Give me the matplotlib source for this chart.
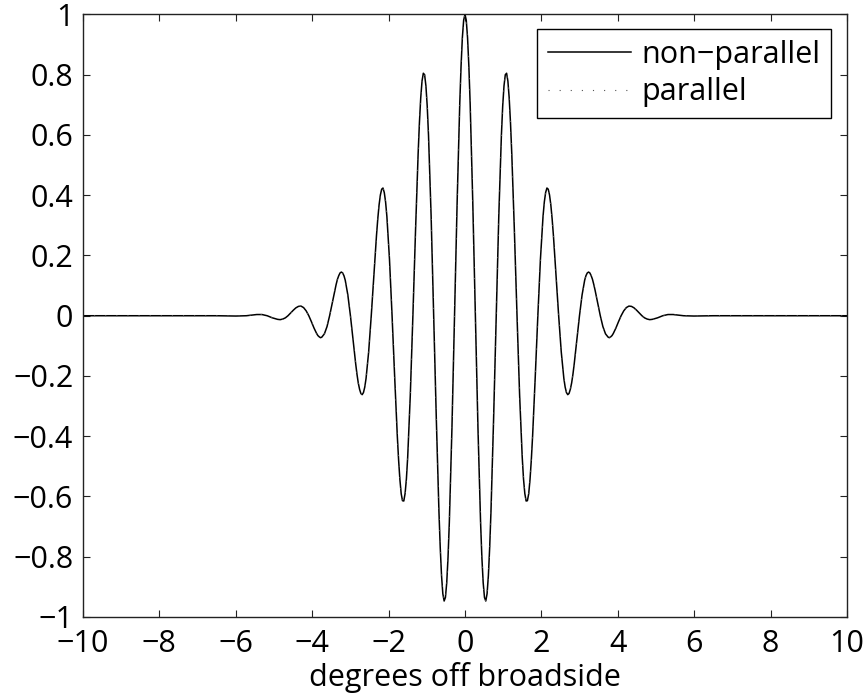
import matplotlib
matplotlib.use("Agg")
import matplotlib.pyplot as plt
import numpy as np

# beam pattern, right half (x in degrees), mirrored for the left half
half_x = [0.0, 0.034, 0.068, 0.102, 0.136, 0.204, 0.273, 0.341,
          0.409, 0.443, 0.477, 0.511, 0.545, 0.579, 0.613, 0.647,
          0.681, 0.749, 0.818, 0.886, 0.954, 0.988, 1.022, 1.056,
          1.09, 1.124, 1.158, 1.192, 1.226, 1.294, 1.363, 1.431,
          1.499, 1.533, 1.567, 1.601, 1.635, 1.669, 1.703, 1.737,
          1.771, 1.839, 1.908, 1.976, 2.044, 2.078, 2.112, 2.146,
          2.18, 2.214, 2.248, 2.282, 2.316, 2.384, 2.453, 2.521,
          2.589, 2.623, 2.657, 2.691, 2.725, 2.759, 2.793, 2.827,
          2.861, 2.929, 2.998, 3.066, 3.134, 3.168, 3.202, 3.236,
          3.27, 3.304, 3.338, 3.372, 3.406, 3.474, 3.543, 3.611,
          3.679, 3.747, 3.781, 3.815, 3.849, 3.883, 3.951, 4.019,
          4.088, 4.156, 4.224, 4.292, 4.36, 4.428, 4.496, 4.564,
          4.633, 4.701, 4.769, 4.837, 4.905, 5.041, 5.178, 5.314,
          5.45, 5.586, 5.723, 5.995, 6.5, 8.0, 10.0]
half_y = [1.000, 0.981, 0.923, 0.829, 0.705, 0.380, 0.0, -0.375,
          -0.686, -0.802, -0.886, -0.935, -0.947, -0.923, -0.863, -0.770,
          -0.650, -0.346, 0.0, 0.332, 0.599, 0.696, 0.763, 0.800,
          0.805, 0.779, 0.723, 0.641, 0.537, 0.282, 0.0, -0.264,
          -0.469, -0.542, -0.590, -0.615, -0.614, -0.591, -0.544, -0.479,
          -0.399, -0.206, 0.0, 0.188, 0.330, 0.378, 0.409, 0.424,
          0.420, 0.401, 0.368, 0.322, 0.266, 0.136, 0.0, -0.120,
          -0.208, -0.237, -0.255, -0.262, -0.258, -0.244, -0.223, -0.194,
          -0.159, -0.080, 0.0, 0.069, 0.118, 0.133, 0.142, 0.145,
          0.142, 0.133, 0.121, 0.104, 0.085, 0.042, 0.0, -0.036,
          -0.060, -0.071, -0.073, -0.070, -0.066, -0.059, -0.041, -0.020,
          0.0, 0.016, 0.027, 0.032, 0.031, 0.026, 0.018, 0.009,
          0.0, -0.007, -0.011, -0.013, -0.012, -0.007, 0.0, 0.004,
          0.004, 0.002, 0.0, -0.001, 0.0, 0.0, 0.0]

x = np.concatenate([-np.array(half_x[:0:-1]), half_x])
y = np.concatenate([np.array(half_y[:0:-1]), half_y])

xticks = [-10, -8, -6, -4, -2, 0, 2, 4, 6, 8, 10]
yticks = [-1, -0.8, -0.6, -0.4, -0.2, 0, 0.2, 0.4, 0.6, 0.8, 1]
ytick_labels = ["\u22121", "\u22120.8", "\u22120.6", "\u22120.4", "\u22120.2",
                "0", "0.2", "0.4", "0.6", "0.8", "1"]
xtick_labels = ["\u221210", "\u22128", "\u22126", "\u22124", "\u22122",
                "0", "2", "4", "6", "8", "10"]

plt.rcParams["font.family"] = ["Open Sans", "DejaVu Sans"]

fig = plt.figure(figsize=(8.66, 7.0), dpi=100)
ax = fig.add_axes([0.0958, 0.1186, 0.8822, 0.8607])

ax.plot(x, y, "-", color="black", lw=1.1, label="non\u2212parallel")
ax.plot(x, y, linestyle=(0, (1, 9)), color="#555555", lw=0.8, label="parallel")

ax.set_xlim(-10, 10)
ax.set_ylim(-1, 1)
ax.set_xticks(xticks)
ax.set_xticklabels(xtick_labels)
ax.set_yticks(yticks)
ax.set_yticklabels(ytick_labels)
ax.tick_params(direction="in", length=5, width=0.8, top=True, right=True,
               labelsize=22, colors="#222222", labelcolor="black")
ax.tick_params(axis="x", pad=9)
ax.tick_params(axis="y", pad=7)
for s in ax.spines.values():
    s.set_linewidth(1.0)
    s.set_color("#222222")

ax.set_xlabel("degrees off broadside", fontsize=22, labelpad=2)

leg = ax.legend(loc="upper right", bbox_to_anchor=(0.979, 0.976),
                borderaxespad=0, fontsize=22, handlelength=2.7,
                handletextpad=0.35, labelspacing=0.25, borderpad=0.35,
                fancybox=False, framealpha=1)
leg.get_frame().set_edgecolor("black")
leg.get_frame().set_linewidth(1.0)

fig.savefig("out.png", dpi=100)
